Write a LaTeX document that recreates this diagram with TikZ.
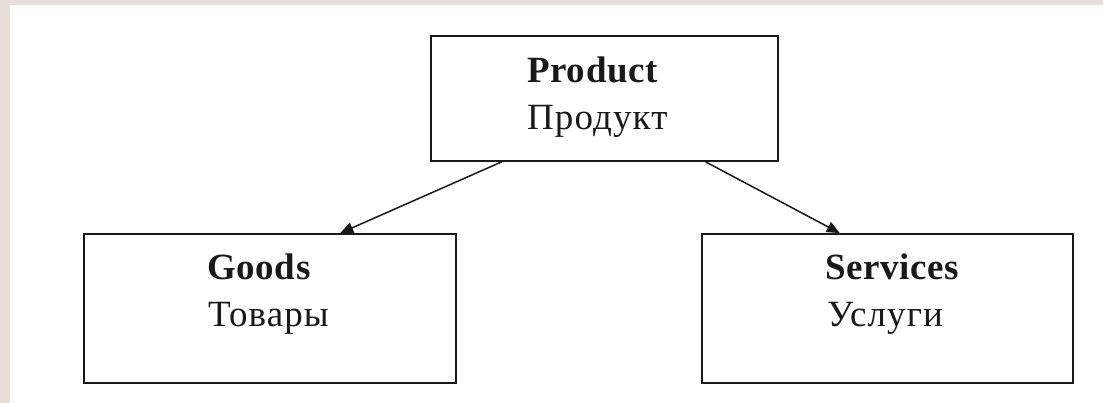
\documentclass[tikz,border=0pt]{standalone}
\usepackage{fontspec}
\setmainfont[LetterSpace=3,BoldFeatures={LetterSpace=1.8}]{Liberation Serif}
\usetikzlibrary{arrows.meta,calc}
\definecolor{framebg}{RGB}{232,221,216}
\definecolor{ink}{RGB}{25,25,25}
\tikzset{
  box/.style={draw=ink, line width=1.8pt, fill=white, rectangle, inner sep=0pt},
  title/.style={anchor=base west, inner sep=0pt, font=\fontsize{37}{47}\selectfont\bfseries, text=ink},
  subtitle/.style={anchor=base west, inner sep=0pt, font=\fontsize{37}{47}\selectfont, text=ink},
  link/.style={draw=ink, line width=1.5pt, -{Triangle[length=13pt,width=11pt]}}
}
\begin{document}
\begin{tikzpicture}[x=1pt,y=1pt]
  % page and its tinted frame strips
  \useasboundingbox (0,0) rectangle (1103,403);
  \fill[white] (0,0) rectangle (1103,403);
  \fill[framebg] (0,0) rectangle (10,403);
  \fill[framebg] (0,398) rectangle (1103,403);

  % boxes
  \node[box, minimum width=347pt, minimum height=125pt] (prod) at (604.5,304.5) {};
  \node[box, minimum width=372pt, minimum height=149pt] (goods) at (270,94.5) {};
  \node[box, minimum width=371pt, minimum height=149pt] (serv) at (887.5,94.5) {};

  % labels
  \node[title] (prodA) at (527,320) {Product};
  \node[subtitle] (prodB) at (527,273) {Продукт};
  \node[title] (goodsA) at (207,123) {Goods};
  \node[subtitle] (goodsB) at (208,76) {Товары};
  \node[title] (servA) at (825,123) {Services};
  \node[subtitle] (servB) at (827,76) {Услуги};

  % connectors
  \draw[link] ($(prod.south west)!0.205!(prod.south east)$) -- ($(goods.north west)!0.688!(goods.north east)$);
  \draw[link] ($(prod.south west)!0.79!(prod.south east)$) -- ($(serv.north west)!0.372!(serv.north east)$);
\end{tikzpicture}
\end{document}
